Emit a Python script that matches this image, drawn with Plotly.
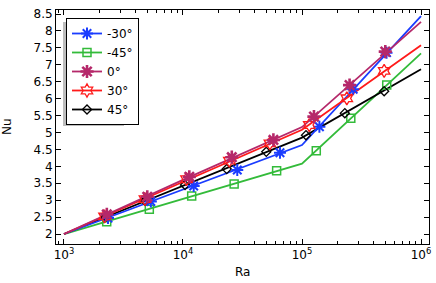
import plotly.graph_objects as go

# ---- data ----
ra_line = [1e3, 1e4, 1e5, 1e6]
series_names = ["-30°", "-45°", "0°", "30°", "45°"]

nu_line_m30 = [2.0, 3.31, 4.63, 8.44]
nu_line_m45 = [2.0, 3.05, 4.08, 7.34]
nu_line_0 = [2.0, 3.60, 5.16, 8.27]
nu_line_30 = [2.0, 3.55, 5.08, 7.58]
nu_line_45 = [2.0, 3.43, 4.85, 6.87]

ra_mk_m30 = [2344, 5370, 12300, 28580, 65300, 140000, 269000, 513000]
nu_mk_m30 = [2.47, 2.96, 3.42, 3.89, 4.40, 5.17, 6.28, 7.36]
ra_mk_m45 = [2286, 5212, 11830, 26900, 61200, 131800, 257000, 515000]
nu_mk_m45 = [2.36, 2.73, 3.12, 3.48, 3.87, 4.46, 5.42, 6.40]
ra_mk_0 = [2291, 5012, 11300, 25700, 57500, 126000, 251000, 501000]
nu_mk_0 = [2.58, 3.10, 3.69, 4.27, 4.78, 5.47, 6.40, 7.39]
ra_mk_30 = [2188, 4786, 10700, 24500, 53700, 115000, 238000, 490000]
nu_mk_30 = [2.52, 3.03, 3.62, 4.17, 4.68, 5.22, 6.01, 6.82]
ra_mk_45 = [2239, 4786, 10400, 23300, 50100, 108000, 229000, 490000]
nu_mk_45 = [2.51, 2.98, 3.45, 3.92, 4.43, 4.92, 5.57, 6.22]

x_tickvals = [1e3, 1e4, 1e5, 1e6]
x_ticktext = ["10<sup>3</sup>", "10<sup>4</sup>", "10<sup>5</sup>", "10<sup>6</sup>"]

# ---- styles ----
styles = [
    dict(color="#1a3cff", symbol="asterisk-open", size=10, mlw=2.0),
    dict(color="#33bb3a", symbol="square-open", size=8, mlw=1.5),
    dict(color="#b5286a", symbol="asterisk-open", size=11, mlw=2.6),
    dict(color="#ff1a1a", symbol="hexagram-open", size=10, mlw=1.3),
    dict(color="#000000", symbol="diamond-open", size=7, mlw=1.3),
]
lines = [nu_line_m30, nu_line_m45, nu_line_0, nu_line_30, nu_line_45]
mks = [(ra_mk_m30, nu_mk_m30), (ra_mk_m45, nu_mk_m45), (ra_mk_0, nu_mk_0),
       (ra_mk_30, nu_mk_30), (ra_mk_45, nu_mk_45)]

fig = go.Figure()
order = [1, 4, 0, 3, 2]
for i in order:
    st = styles[i]
    fig.add_trace(go.Scatter(x=ra_line, y=lines[i], mode="lines",
                             line=dict(color=st["color"], width=1.8),
                             showlegend=False, hoverinfo="skip"))
for i in order:
    st = styles[i]
    mx, my = mks[i]
    fig.add_trace(go.Scatter(x=mx, y=my, mode="markers",
                             marker=dict(symbol=st["symbol"], size=st["size"], color=st["color"],
                                         line=dict(color=st["color"], width=st["mlw"])),
                             showlegend=False))
for i in range(5):
    st = styles[i]
    fig.add_trace(go.Scatter(x=[None], y=[None], mode="lines+markers", name=series_names[i],
                             legendgroup="g%d" % i,
                             line=dict(color=st["color"], width=1.8),
                             marker=dict(symbol=st["symbol"], size=st["size"], color=st["color"],
                                         line=dict(color=st["color"], width=st["mlw"]))))

minor_x = [m * 10 ** e for e in (2, 3, 4, 5) for m in range(2, 10)]
minor_x = [v for v in minor_x if 8.5e2 < v < 1.17e6]

# legend shadow (pixel-based, paper coords)
L, R, T, B = 56, 429, 10, 244
def px(xp):
    return (xp - L) / (R - L)
def py(yp):
    return (B - yp) / (B - T)

fig.update_layout(
    width=436, height=283,
    margin=dict(l=56, r=7, t=10, b=39, autoexpand=False),
    paper_bgcolor="white", plot_bgcolor="white",
    font=dict(family="DejaVu Sans", size=12, color="black"),
    legend=dict(x=px(66), y=py(18), xanchor="left", yanchor="top",
                bgcolor="white", bordercolor="black", borderwidth=1,
                font=dict(size=12), itemwidth=30, tracegroupgap=0,
                traceorder="grouped", entrywidth=28),
    xaxis=dict(type="log", range=[2.933, 6.067], tickmode="array",
               tickvals=x_tickvals, ticktext=x_ticktext, automargin=False,
               ticks="inside", ticklen=5, tickcolor="black",
               showline=True, linecolor="black", linewidth=1, mirror="ticks",
               showgrid=False, zeroline=False,
               minor=dict(tickmode="array", tickvals=minor_x, ticks="inside",
                          ticklen=3, tickcolor="black", showgrid=False)),
    yaxis=dict(range=[1.705, 8.62], dtick=0.5, tick0=0, automargin=False,
               ticks="inside", ticklen=5, tickcolor="black",
               showline=True, linecolor="black", linewidth=1, mirror="ticks",
               showgrid=False, zeroline=False),
    annotations=[
        dict(text="Ra", xref="paper", yref="paper", x=0.5, y=py(272),
             xanchor="center", yanchor="middle", showarrow=False, font=dict(size=12)),
        dict(text="Nu", xref="paper", yref="paper", x=px(7), y=0.5,
             xanchor="center", yanchor="middle", showarrow=False, textangle=-90,
             font=dict(size=12)),
    ],
    shapes=[
        dict(type="rect", xref="paper", yref="paper", layer="above",
             x0=px(63), x1=px(124), y0=py(126), y1=py(22),
             fillcolor="#bdbdbd", opacity=1, line=dict(width=0)),
    ],
)

fig.write_html("out.html", config={"displayModeBar": False},
               post_script="document.body.style.margin='0';")
